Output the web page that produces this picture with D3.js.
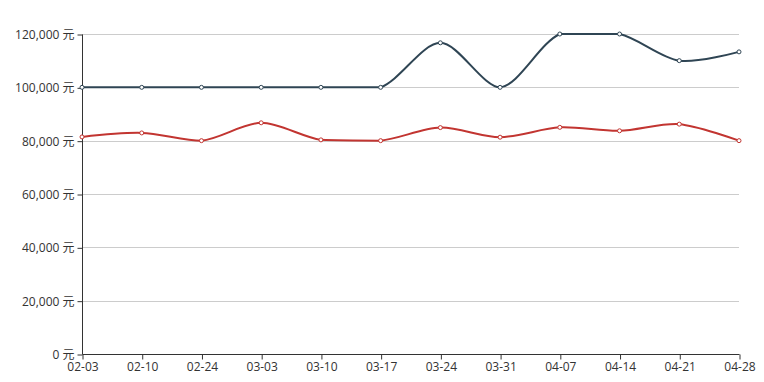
<!DOCTYPE html>
<html><head><meta charset="utf-8">
<script src="https://cdn.jsdelivr.net/npm/d3@7/dist/d3.min.js"></script>
<style>body{margin:0;background:#fff}svg{display:block}</style>
</head><body><svg id="c" width="764" height="382"></svg>
<script>
const categories = ["02-03","02-10","02-24","03-03","03-10","03-17","03-24","03-31","04-07","04-14","04-21","04-28"];
const seriesA = [100000,100000,100000,100000,100000,100000,116700,100000,120000,120000,110000,113300];
const seriesB = [81400,82900,80000,86700,80300,80000,84900,81300,85000,83700,86200,80000];
const yTicks = [0,20000,40000,60000,80000,100000,120000];
const colors = ["#2f4554","#c23531"];

const L=82, R=739, T=34, B=354;
const svg=d3.select("#c");
const font='"Open Sans","Noto Sans CJK SC",sans-serif';
const x=d3.scalePoint().domain(categories).range([L,R]);
const y=d3.scaleLinear().domain([0,120000]).range([B,T]);

// grid lines
svg.append("g").selectAll("line").data(yTicks.filter(d=>d>0)).join("line")
  .attr("x1",L).attr("x2",R).attr("y1",d=>Math.round(y(d))+0.5).attr("y2",d=>Math.round(y(d))+0.5)
  .attr("stroke","#ccc").attr("stroke-width",1);

// axes
const fmt=d3.format(",");
const yAxis=svg.append("g").attr("transform",`translate(${L+0.5},0.5)`)
  .call(d3.axisLeft(y).tickValues(yTicks).tickSize(5).tickPadding(3).tickFormat(d=>fmt(d)+" 元"));
const xAxis=svg.append("g").attr("transform",`translate(0.5,${B+0.5})`)
  .call(d3.axisBottom(x).tickSize(5).tickPadding(3).tickSizeOuter(0));
[yAxis,xAxis].forEach(g=>{
  g.select(".domain").attr("stroke","#333");
  g.selectAll(".tick line").attr("stroke","#333");
  g.selectAll("text").attr("fill","#333").style("font-family",font).style("font-size","12px");
});
yAxis.select(".domain").attr("d",`M0,${B}V${T}`);
xAxis.select(".domain").attr("d",`M${L},0H${R}`);

// ECharts-style smooth curve, control points constrained to the series bounding box
function EChartsCurve(context){this._c=context;}
EChartsCurve.prototype={
  areaStart(){},areaEnd(){},
  lineStart(){this._p=[];},
  point(px,py){this._p.push([+px,+py]);},
  lineEnd(){
    const p=this._p,c=this._c,n=p.length,s=0.3;
    if(!n)return;
    const minX=d3.min(p,d=>d[0]),maxX=d3.max(p,d=>d[0]);
    const minY=d3.min(p,d=>d[1]),maxY=d3.max(p,d=>d[1]);
    const clamp=(v,a,b)=>Math.max(a,Math.min(b,v));
    c.moveTo(p[0][0],p[0][1]);
    let cp0=[p[0][0],p[0][1]];
    for(let i=1;i<n;i++){
      const cur=p[i],prev=p[i-1],next=p[i+1];
      let cp1,vx=0,vy=0,ratio=0.5;
      if(!next){cp1=[cur[0],cur[1]];}
      else{
        vx=next[0]-prev[0]; vy=next[1]-prev[1];
        const d0=Math.hypot(cur[0]-prev[0],cur[1]-prev[1]);
        const d1=Math.hypot(next[0]-cur[0],next[1]-cur[1]);
        ratio=d1/(d1+d0);
        cp1=[cur[0]-vx*s*(1-ratio),cur[1]-vy*s*(1-ratio)];
      }
      cp0=[clamp(cp0[0],minX,maxX),clamp(cp0[1],minY,maxY)];
      cp1=[clamp(cp1[0],minX,maxX),clamp(cp1[1],minY,maxY)];
      c.bezierCurveTo(cp0[0],cp0[1],cp1[0],cp1[1],cur[0],cur[1]);
      cp0=[cur[0]+vx*s*ratio,cur[1]+vy*s*ratio];
    }
  }
};
const curve=ctx=>new EChartsCurve(ctx);
const line=d3.line().x((d,i)=>x(categories[i])).y(d=>y(d)).curve(curve);

[seriesB,seriesA].forEach((data,k)=>{
  const col=k===0?colors[1]:colors[0];
  svg.append("path").datum(data).attr("d",line).attr("fill","none")
    .attr("stroke",col).attr("stroke-width",2).attr("stroke-linejoin","round");
  svg.append("g").selectAll("circle").data(data).join("circle")
    .attr("cx",(d,i)=>x(categories[i])).attr("cy",d=>y(d)).attr("r",2)
    .attr("fill","#fff").attr("stroke",col).attr("stroke-width",1);
});
</script></body></html>
